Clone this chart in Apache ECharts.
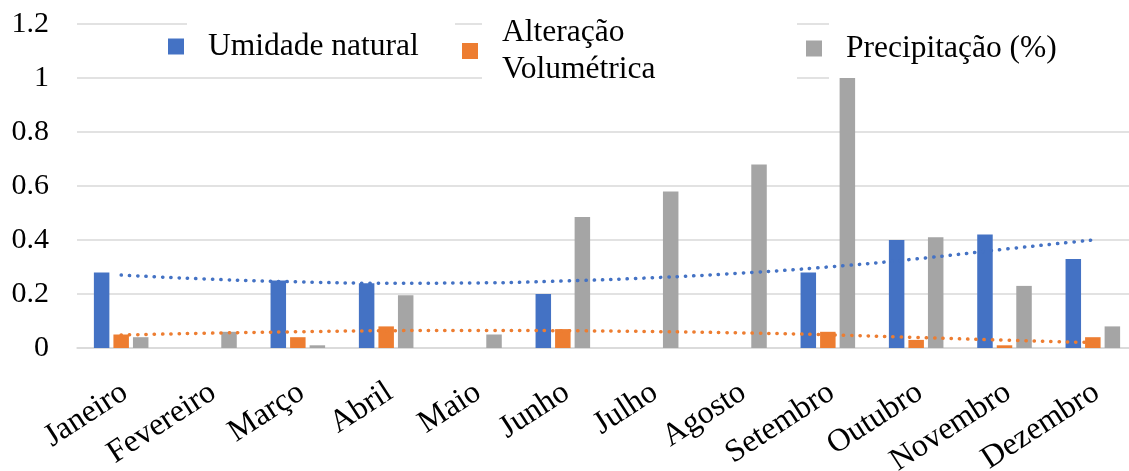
<!DOCTYPE html>
<html>
<head>
<meta charset="utf-8">
<style>
html,body{margin:0;padding:0;background:#fff;}
#chart{width:1129px;height:471px;}
</style>
<script src="https://cdn.jsdelivr.net/npm/echarts@6/dist/echarts.min.js"></script>
</head>
<body>
<div id="chart"></div>
<script>
const categories = ['Janeiro','Fevereiro','Março','Abril','Maio','Junho','Julho','Agosto','Setembro','Outubro','Novembro','Dezembro'];
const umidade = [0.28, null, 0.25, 0.24, null, 0.20, null, null, 0.28, 0.40, 0.42, 0.33];
const alteracao = [0.05, null, 0.04, 0.08, null, 0.07, null, null, 0.06, 0.03, 0.01, 0.04];
const precipitacao = [0.04, 0.06, 0.01, 0.195, 0.05, 0.485, 0.58, 0.68, 1.00, 0.41, 0.23, 0.08];
const trendUmidade = [0.270, 0.255, 0.245, 0.240, 0.241, 0.248, 0.260, 0.277, 0.300, 0.330, 0.366, 0.400];
const trendAlteracao = [0.048, 0.055, 0.060, 0.064, 0.065, 0.064, 0.061, 0.056, 0.049, 0.039, 0.029, 0.020];
const yTicks = ['0','0.2','0.4','0.6','0.8','1','1.2'];

const FONT = "'Times New Roman','Liberation Serif',serif";
const chart = echarts.init(document.getElementById('chart'));
const legendText = {fontFamily: FONT, fontSize: 31.5, color: '#000', lineHeight: 37, padding: [0,0,0,19]};
const dotted = (color) => ({color: color, width: 3.5, type: [0.3, 8], cap: 'round'});

chart.setOption({
  animation: false,
  backgroundColor: '#fff',
  grid: {left: 77, width: 1060, top: 24, height: 324, containLabel: false, outerBoundsMode: 'none'},
  graphic: [
    {type: 'rect', z: 1, shape: {x: 187, y: 14, width: 268, height: 56}, style: {fill: '#fff'}},
    {type: 'rect', z: 1, shape: {x: 482, y: 14, width: 315, height: 76}, style: {fill: '#fff'}},
    {type: 'rect', z: 1, shape: {x: 829, y: 14, width: 300, height: 76}, style: {fill: '#fff'}}
  ],
  legend: [
    {data: ['Umidade natural'], left: 168, top: 28, padding: 0, itemWidth: 16, itemHeight: 16, icon: 'rect', textStyle: legendText},
    {data: ['Alteração\nVolumétrica'], left: 462, top: 14, padding: 0, itemWidth: 16, itemHeight: 16, icon: 'rect', textStyle: legendText},
    {data: ['Precipitação (%)'], left: 806, top: 30, padding: 0, itemWidth: 16, itemHeight: 16, icon: 'rect', textStyle: legendText}
  ],
  xAxis: {
    type: 'category',
    data: categories,
    axisLine: {lineStyle: {color: '#d9d9d9', width: 1.5}},
    axisTick: {show: false},
    axisLabel: {rotate: 33, interval: 0, margin: 25, align: 'right', verticalAlign: 'top', padding: [0, 6, 0, 0], fontFamily: FONT, fontSize: 32, color: '#000'}
  },
  yAxis: {
    type: 'value',
    min: 0, max: 1.2, interval: 0.2,
    axisLine: {show: false},
    axisTick: {show: false},
    splitLine: {lineStyle: {color: '#d9d9d9', width: 1.5}},
    axisLabel: {
      margin: 28, fontFamily: FONT, fontSize: 30, color: '#000',
      formatter: (v) => yTicks[Math.round(v / 0.2)]
    }
  },
  series: [
    {name: 'Umidade natural', type: 'bar', data: umidade, barWidth: 15.5, barGap: '26%', itemStyle: {color: '#4472C4'}},
    {name: 'Alteração\nVolumétrica', type: 'bar', data: alteracao, barWidth: 15.5, barGap: '26%', itemStyle: {color: '#ED7D31'}},
    {name: 'Precipitação (%)', type: 'bar', data: precipitacao, barWidth: 15.5, barGap: '26%', itemStyle: {color: '#A5A5A5'}},
    {name: 'trendU', type: 'line', data: trendUmidade, smooth: true, symbol: 'none', z: 3, lineStyle: dotted('#4472C4')},
    {name: 'trendA', type: 'line', data: trendAlteracao, smooth: true, symbol: 'none', z: 3, lineStyle: dotted('#ED7D31')}
  ]
});
</script>
</body>
</html>
